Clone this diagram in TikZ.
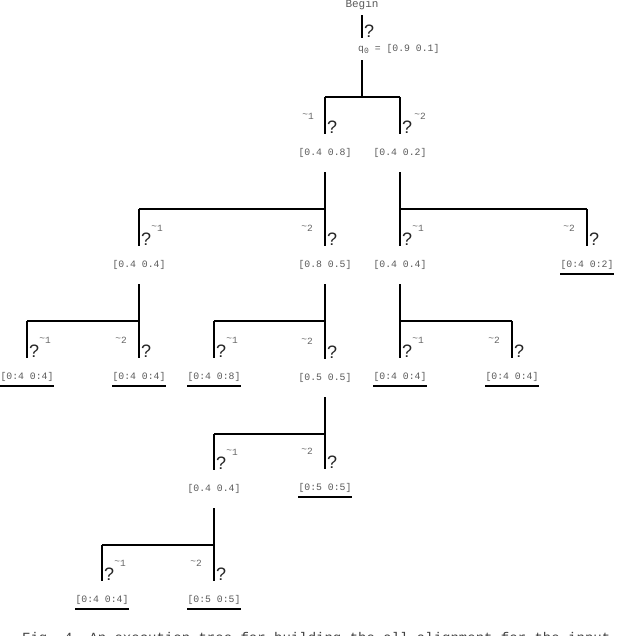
\documentclass[tikz,border=0pt]{standalone}
\usepackage{fontspec}
\setmonofont{Liberation Mono}
\newfontfamily\qfont{Liberation Sans}
\usetikzlibrary{calc}
\newcommand\mybranch[3]{%
  \coordinate (#1j) at ($(#1.south)+(0,37)$);
  \draw[hbar] (#2.north |- #1j) -- (#3.north |- #1j);
  \draw[vbar] (#1.south) -- (#1j);
  \draw[vbar] (#2.north |- #1j) -- (#2.north);
  \draw[vbar] (#3.north |- #1j) -- (#3.north);
  \node[qm] at ($(#2.north)+(2,0)$) {?};
  \node[qm] at ($(#3.north)+(2,0)$) {?};
}
\newcommand\mylabels[2]{%
  \node[sig] at ($(#1.north)+(18,-17)$) {\raisebox{2pt}{\textasciitilde}1};
  \node[sig] at ($(#2.north)+(-18,-17)$) {\raisebox{2pt}{\textasciitilde}2};
}
\newcommand\myuline[1]{%
  \draw[uline] ($(#1.center)+(-27,9)$) -- ($(#1.center)+(27,9)$);
}
\begin{document}
\begin{tikzpicture}[x=1pt,y=-1pt,
  val/.style={font=\ttfamily\fontsize{9.8}{10}\selectfont, text=black!65,
    minimum height=38pt, inner sep=0pt, anchor=center},
  qm/.style={font=\qfont\fontsize{18}{18}\selectfont, text=black!85,
    inner sep=0pt, anchor=south west},
  sig/.style={font=\ttfamily\fontsize{9.5}{9.5}\selectfont, text=black!60, inner sep=0pt},
  vbar/.style={line width=1.8pt, black},
  hbar/.style={line width=1.5pt, black},
  uline/.style={line width=2.2pt, black}]
\useasboundingbox (0,0) rectangle (640,636);

% root
\node[val, minimum height=20pt, font=\ttfamily\fontsize{11}{11}\selectfont] (begin) at (362,5) {Begin};
\node[val, minimum height=22pt, anchor=west] (q0) at (358,49)
  {q\raisebox{-2pt}{\fontsize{8}{8}\selectfont 0} = [0.9 0.1]};
\draw[vbar] (begin.south) -- (begin.south |- q0.north);
\node[qm] at ($(begin.south |- q0.north)+(2,0)$) {?};
\coordinate (rs) at (q0.south -| begin.south);
\coordinate (rj) at ($(rs)+(0,37)$);

% level 1
\node[val] (n1) at (325,153) {[0.4 0.8]};
\node[val] (n2) at (400,153) {[0.4 0.2]};
\draw[vbar] (rs) -- (rj);
\draw[hbar] (n1.north |- rj) -- (n2.north |- rj);
\draw[vbar] (n1.north |- rj) -- (n1.north);
\draw[vbar] (n2.north |- rj) -- (n2.north);
\node[qm] at ($(n1.north)+(2,0)$) {?};
\node[qm] at ($(n2.north)+(2,0)$) {?};
\node[sig] at ($(n1.north)+(-17,-17)$) {\raisebox{2pt}{\textasciitilde}1};
\node[sig] at ($(n2.north)+(20,-17)$) {\raisebox{2pt}{\textasciitilde}2};

% level 2
\node[val] (n11) at (139,265) {[0.4 0.4]};
\node[val] (n12) at (325,265) {[0.8 0.5]};
\node[val] (n21) at (400,265) {[0.4 0.4]};
\node[val] (n22) at (587,265) {[0:4 0:2]};
\mybranch{n1}{n11}{n12}
\mybranch{n2}{n21}{n22}
\mylabels{n11}{n12}
\mylabels{n21}{n22}
\myuline{n22}

% level 3
\node[val] (n111) at (27,377) {[0:4 0:4]};
\node[val] (n112) at (139,377) {[0:4 0:4]};
\node[val] (n121) at (214,377) {[0:4 0:8]};
\node[val] (n122) at (325,378) {[0.5 0.5]};
\node[val] (n211) at (400,377) {[0:4 0:4]};
\node[val] (n212) at (512,377) {[0:4 0:4]};
\mybranch{n11}{n111}{n112}
\mybranch{n12}{n121}{n122}
\mybranch{n21}{n211}{n212}
\mylabels{n111}{n112}
\mylabels{n121}{n122}
\mylabels{n211}{n212}
\myuline{n111}
\myuline{n112}
\myuline{n121}
\myuline{n211}
\myuline{n212}

% level 4
\node[val] (n1221) at (214,489) {[0.4 0.4]};
\node[val] (n1222) at (325,488) {[0:5 0:5]};
\mybranch{n122}{n1221}{n1222}
\mylabels{n1221}{n1222}
\myuline{n1222}

% level 5
\node[val] (n12211) at (102,600) {[0:4 0:4]};
\node[val] (n12212) at (214,600) {[0:5 0:5]};
\mybranch{n1221}{n12211}{n12212}
\mylabels{n12211}{n12212}
\myuline{n12211}
\myuline{n12212}

% caption (cut off by the page edge, as in the reference)
\node[font=\ttfamily\fontsize{14}{14}\selectfont, text=black!75, anchor=base west,
  inner sep=0pt] (cap) at (22,642)
  {Fig. 4. An execution tree for building the all-alignment for the input};
\end{tikzpicture}
\end{document}
